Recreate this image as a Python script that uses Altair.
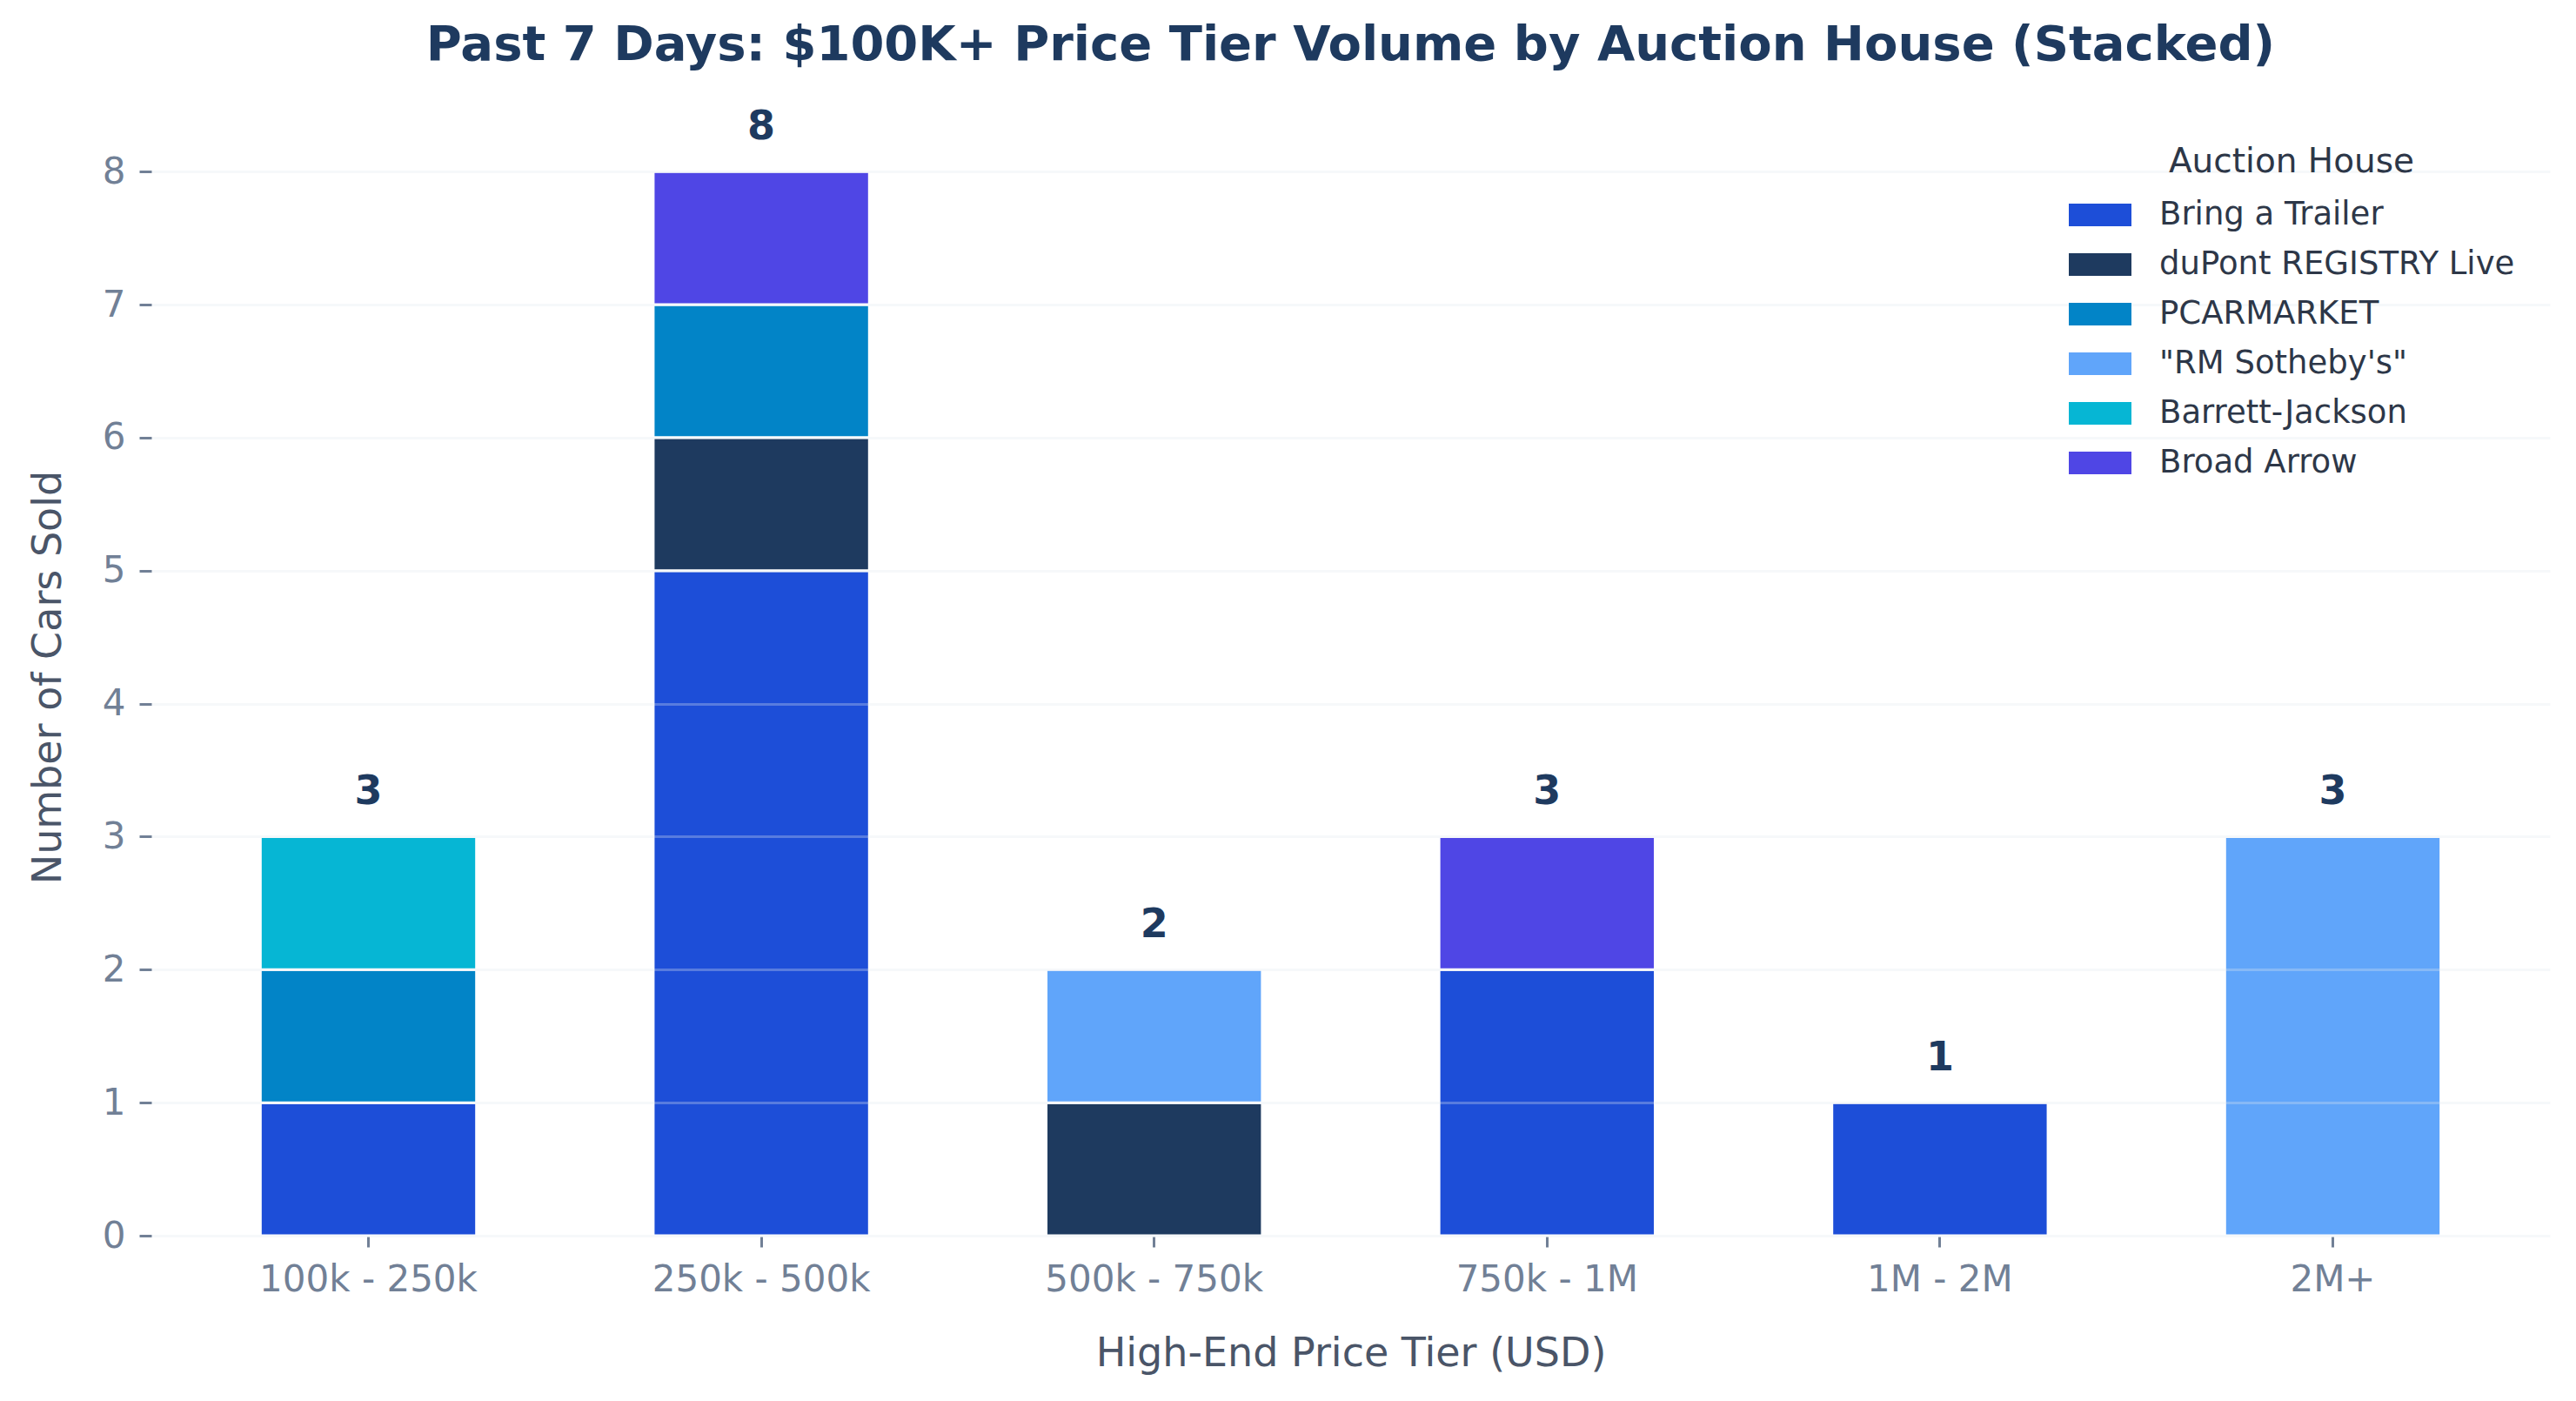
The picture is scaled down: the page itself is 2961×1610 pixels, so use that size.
import altair as alt
import pandas as pd

tiers = ["100k - 250k", "250k - 500k", "500k - 750k", "750k - 1M", "1M - 2M", "2M+"]
houses = ["Bring a Trailer", "duPont REGISTRY Live", "PCARMARKET", "\"RM Sotheby's\"", "Barrett-Jackson", "Broad Arrow"]
colors = ["#1d4ed8", "#1e3a5f", "#0284c7", "#60a5fa", "#06b6d4", "#4f46e5"]

bring_a_trailer = [1, 5, 0, 2, 1, 0]
dupont_registry = [0, 1, 1, 0, 0, 0]
pcarmarket = [1, 1, 0, 0, 0, 0]
rm_sothebys = [0, 0, 1, 0, 0, 3]
barrett_jackson = [1, 0, 0, 0, 0, 0]
broad_arrow = [0, 1, 0, 1, 0, 0]

series = [bring_a_trailer, dupont_registry, pcarmarket, rm_sothebys, barrett_jackson, broad_arrow]

rows = []
for hi, (house, vals) in enumerate(zip(houses, series)):
    for tier, v in zip(tiers, vals):
        if v > 0:
            rows.append({"tier": tier, "house": house, "count": v, "order": hi})
df = pd.DataFrame(rows)

W, H = 2757, 1284
FONT = "DejaVu Sans"

y_axis = alt.Axis(
    title="Number of Cars Sold",
    values=list(range(9)),
    format="d",
    labelFontSize=42,
    labelColor="#718096",
    labelFont=FONT,
    labelPadding=16,
    tickSize=14,
    tickWidth=3,
    tickColor="#718096",
    domain=False,
    grid=True,
    gridColor="#e2e8f0",
    gridOpacity=0.3,
    gridWidth=3,
    zindex=1,
    titleFontSize=46,
    titleFont=FONT,
    titleFontWeight="normal",
    titleColor="#4a5568",
    titleAngle=270,
    titleX=-105,
    titleY=H / 2,
    titleBaseline="alphabetic",
    titleAlign="center",
)

x_axis = alt.Axis(
    title="High-End Price Tier (USD)",
    labelAngle=0,
    labelFontSize=42,
    labelColor="#718096",
    labelFont=FONT,
    labelBaseline="alphabetic",
    labelPadding=50,
    labelLimit=0,
    tickSize=13,
    tickWidth=3,
    tickColor="#718096",
    domain=False,
    grid=False,
    titleFontSize=46,
    titleFont=FONT,
    titleFontWeight="normal",
    titleColor="#4a5568",
    titleX=W / 2,
    titleY=149,
    titleBaseline="alphabetic",
    titleAlign="center",
)

y_scale = alt.Scale(domain=[0, 8.4], nice=False)
x_scale = alt.Scale(paddingInner=0.45, paddingOuter=0.2775)

base = alt.Chart(df)

bars = base.mark_bar(stroke="white", strokeWidth=3, opacity=1).encode(
    x=alt.X("tier:N", sort=tiers, scale=x_scale, axis=x_axis),
    y=alt.Y("count:Q", stack="zero", scale=y_scale, axis=y_axis),
    color=alt.Color(
        "house:N",
        sort=houses,
        scale=alt.Scale(domain=houses, range=colors),
        legend=alt.Legend(
            title="Auction House",
            orient="none",
            legendX=2204,
            legendY=31,
            zindex=2,
            titleFontSize=39,
            titleFont=FONT,
            titleFontWeight="normal",
            titleColor="#2d3748",
            titleAnchor="middle",
            titlePadding=5,
            titleLimit=0,
            labelFontSize=37,
            labelFont=FONT,
            labelColor="#2d3748",
            labelOffset=32,
            labelLimit=0,
            rowPadding=3,
            symbolType="M-1,-0.36L1,-0.36L1,0.36L-1,0.36Z",
            symbolSize=5184,
            symbolStrokeWidth=0,
            symbolOpacity=1,
        ),
    ),
    order=alt.Order("order:Q", sort="ascending"),
)

totals = base.transform_aggregate(
    total="sum(count)", groupby=["tier"]
).mark_text(
    dy=-37,
    baseline="alphabetic",
    align="center",
    fontSize=46,
    fontWeight="bold",
    font=FONT,
    color="#1e3a5f",
).encode(
    x=alt.X("tier:N", sort=tiers, scale=x_scale, axis=x_axis),
    y=alt.Y("total:Q", scale=y_scale, axis=y_axis),
    text=alt.Text("total:Q", format="d"),
)

chart = alt.layer(bars, totals).properties(
    width=W,
    height=H,
    title=alt.TitleParams(
        text="Past 7 Days: $100K+ Price Tier Volume by Auction House (Stacked)",
        fontSize=56,
        fontWeight="bold",
        font=FONT,
        color="#1e3a5f",
        anchor="middle",
        frame="group",
        baseline="alphabetic",
        offset=-2,
    ),
    autosize=alt.AutoSizeParams(type="none"),
    padding={"left": 166, "top": 128, "right": 20, "bottom": 170},
    background="white",
).configure_view(stroke=None)

chart.save("out.html", embed_options={"renderer": "svg", "actions": False})
